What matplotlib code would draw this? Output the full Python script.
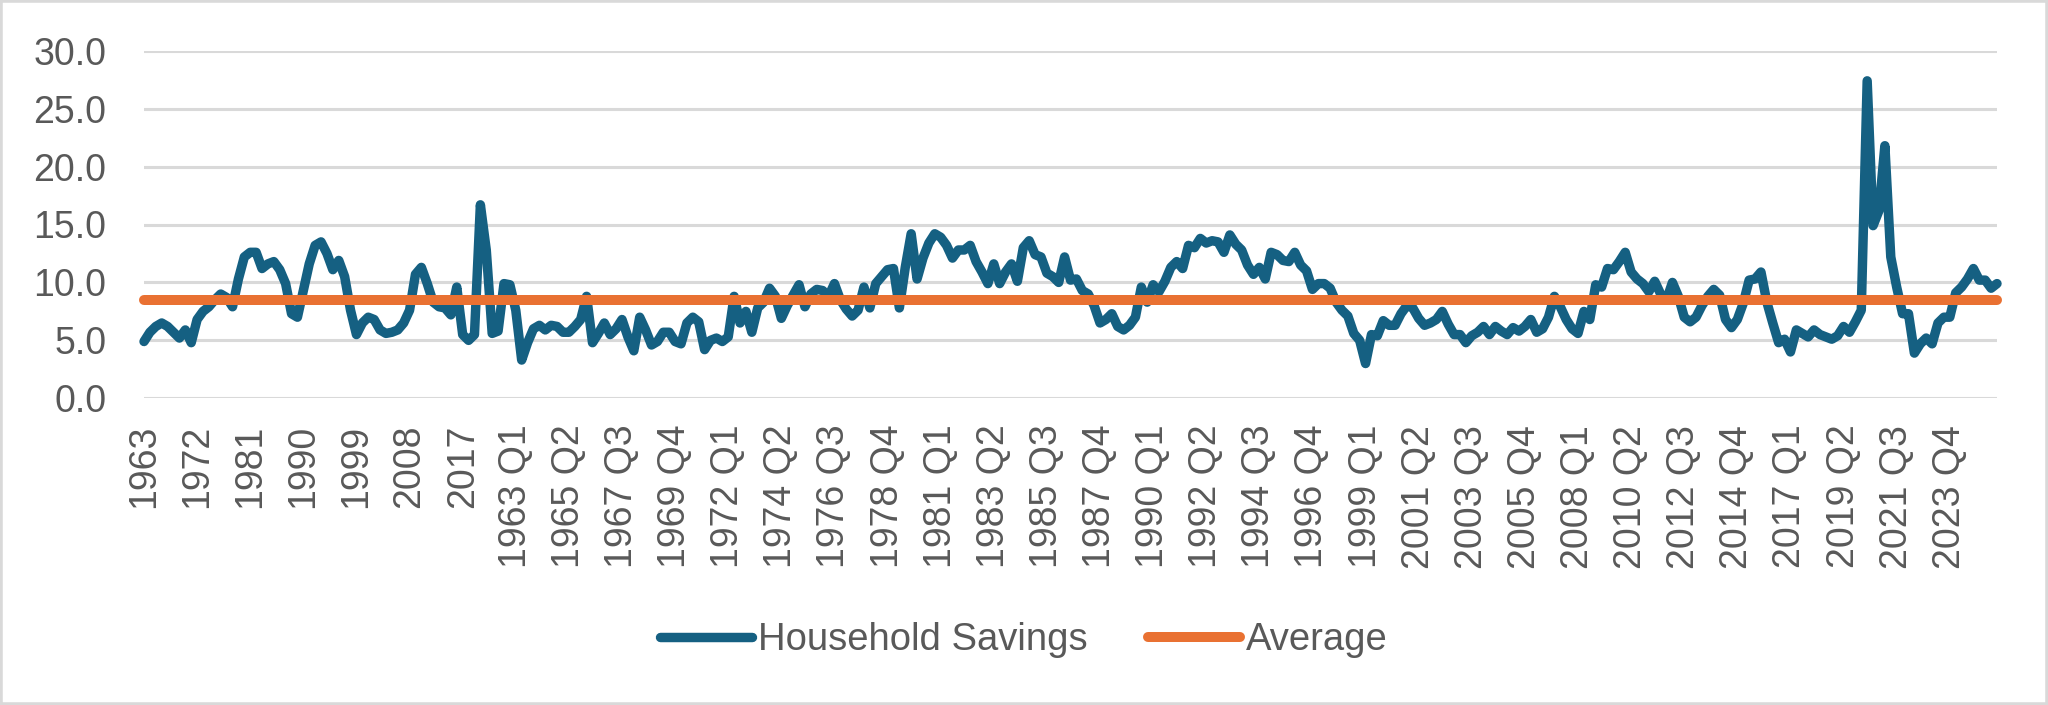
import numpy as np
import matplotlib
matplotlib.use("Agg")
import matplotlib.pyplot as plt
from matplotlib.patches import Rectangle

plt.rcParams["font.family"] = ["Liberation Sans", "DejaVu Sans"]

BLUE   = "#156082"
ORANGE = "#E97132"
GRID   = "#D9D9D9"
TEXT   = "#595959"

# annual values 1963..2025
annual_years = list(range(1963, 2026))
annual_savings = [
    4.9, 5.7, 6.2, 6.5, 6.2, 5.7, 5.2, 5.9, 4.8, 6.8,
    7.5, 7.9, 8.5, 9.0, 8.7, 7.9, 10.3, 12.2, 12.6, 12.6,
    11.2, 11.6, 11.8, 11.1, 9.9, 7.3, 7.0, 9.3, 11.6, 13.2,
    13.5, 12.5, 11.1, 11.9, 10.5, 7.6, 5.5, 6.5, 7.0, 6.8,
    5.9, 5.6, 5.7, 5.9, 6.5, 7.6, 10.7, 11.3, 9.9, 8.3,
    7.9, 7.8, 7.2, 9.6, 5.5, 5.0, 5.5, 16.7, 12.8, 5.6,
    5.8, 9.9, 9.8,
]

# quarterly values 1963 Q1..2025 Q4
quarter_years = list(range(1963, 2026))
quarterly_savings = [
    7.6, 3.3, 4.8, 6.0, 6.3, 5.9, 6.3, 6.2, 5.7, 5.7,
    6.2, 6.8, 8.8, 4.8, 5.6, 6.5, 5.5, 6.0, 6.8, 5.3,
    4.1, 7.0, 5.9, 4.6, 4.9, 5.7, 5.7, 4.9, 4.7, 6.5,
    7.0, 6.6, 4.2, 5.0, 5.2, 4.9, 5.3, 8.8, 6.5, 7.5,
    5.7, 7.8, 8.3, 9.5, 8.8, 6.9, 8.0, 8.9, 9.8, 7.9,
    9.0, 9.4, 9.3, 8.8, 9.9, 8.5, 7.7, 7.1, 7.6, 9.6,
    7.8, 9.9, 10.5, 11.1, 11.2, 7.8, 11.3, 14.2, 10.3, 12.1,
    13.4, 14.2, 13.9, 13.2, 12.1, 12.8, 12.8, 13.2, 11.8, 10.9,
    9.9, 11.6, 9.9, 10.9, 11.6, 10.1, 13.0, 13.6, 12.4, 12.2,
    10.8, 10.5, 10.0, 12.2, 10.2, 10.3, 9.3, 9.0, 8.0, 6.5,
    6.8, 7.3, 6.2, 5.9, 6.3, 7.0, 9.6, 8.3, 9.8, 9.2,
    10.1, 11.3, 11.8, 11.2, 13.2, 13.0, 13.8, 13.4, 13.6, 13.5,
    12.6, 14.1, 13.3, 12.8, 11.5, 10.7, 11.3, 10.3, 12.6, 12.4,
    11.9, 11.8, 12.6, 11.5, 11.0, 9.4, 9.9, 9.9, 9.5, 8.3,
    7.6, 7.1, 5.6, 5.0, 3.0, 5.5, 5.4, 6.7, 6.3, 6.3,
    7.3, 8.0, 7.8, 6.9, 6.3, 6.5, 6.8, 7.5, 6.4, 5.5,
    5.5, 4.8, 5.4, 5.7, 6.2, 5.5, 6.2, 5.8, 5.5, 6.1,
    5.8, 6.2, 6.8, 5.7, 6.0, 7.0, 8.8, 7.9, 6.8, 6.0,
    5.6, 7.5, 6.8, 9.8, 9.6, 11.2, 11.1, 11.8, 12.6, 10.9,
    10.3, 9.9, 9.2, 10.1, 9.0, 8.5, 10.0, 8.8, 7.0, 6.6,
    7.0, 8.0, 8.8, 9.4, 8.9, 6.8, 6.1, 6.8, 8.2, 10.2,
    10.3, 10.9, 8.3, 6.5, 4.8, 5.1, 4.0, 5.9, 5.6, 5.3,
    5.9, 5.5, 5.3, 5.1, 5.4, 6.2, 5.7, 6.6, 7.6, 27.4,
    14.9, 16.2, 21.8, 12.2, 9.6, 7.3, 7.3, 3.9, 4.7, 5.2,
    4.7, 6.5, 7.0, 7.0, 9.1, 9.6, 10.3, 11.2, 10.2, 10.2,
    9.5, 9.9,
]

AVERAGE = 8.5
LABEL_EVERY = 9

categories = [str(y) for y in annual_years] + \
             [f"{y} Q{q}" for y in quarter_years for q in range(1, 5)]
savings = annual_savings + quarterly_savings
average = [AVERAGE] * len(savings)

fig = plt.figure(figsize=(20.48, 7.05), dpi=100)
W, H = 2048, 705
ax = fig.add_axes([144 / W, 1 - 398.3 / H, (1997 - 144) / W, (398.3 - 50.7) / H])

x = np.arange(len(savings))
ax.plot(x, savings, color=BLUE, lw=6.8, solid_capstyle="round",
        solid_joinstyle="round", label="Household Savings", zorder=3, clip_on=False)
ax.plot(x, average, color=ORANGE, lw=7.2, solid_capstyle="round",
        label="Average", zorder=4, clip_on=False)

ax.set_xlim(0, len(savings) - 1)
ax.set_ylim(0, 30)
ax.set_yticks(np.arange(0, 31, 5))
ax.set_yticklabels([f"{v:.1f}" for v in np.arange(0, 31, 5)])
ticks = list(range(0, len(categories), LABEL_EVERY))
ax.set_xticks(ticks)
ax.set_xticklabels([categories[i] for i in ticks], rotation=90)

ax.yaxis.grid(True, color=GRID, lw=2.2)
ax.set_axisbelow(True)
for s in ax.spines.values():
    s.set_visible(False)
ax.tick_params(axis="both", length=0, colors=TEXT)
ax.tick_params(axis="y", labelsize=27, pad=27)
ax.tick_params(axis="x", labelsize=27, pad=19)

fig.legend(loc="center", bbox_to_anchor=(0.5, 1 - 640 / H), ncol=2, frameon=False,
           fontsize=27.5, handlelength=2.4, handletextpad=0.15, columnspacing=1.6,
           labelcolor=TEXT)

fig.patches.append(Rectangle((0, 0), 1, 1, transform=fig.transFigure, fill=False,
                             edgecolor=GRID, lw=4))

fig.savefig("out.png", dpi=100)
